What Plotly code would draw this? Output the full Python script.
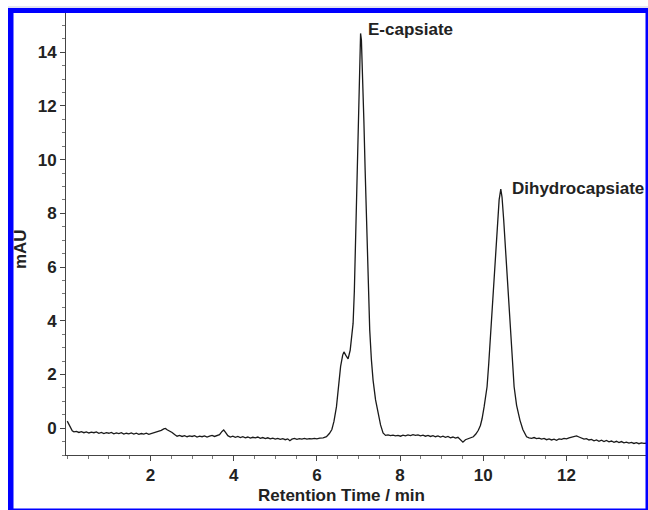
import plotly.graph_objects as go

# ---- data ----
retention_time_min = [
    0.00, 0.04, 0.08, 0.12, 0.16, 0.22, 0.28, 0.34, 0.40, 0.46, 0.52, 0.58, 0.64, 0.70, 0.76, 0.82, 0.88, 0.94,
    1.00, 1.06, 1.12, 1.18, 1.24, 1.30, 1.36, 1.42, 1.48, 1.54, 1.60, 1.66, 1.72, 1.78, 1.84, 1.90, 1.96,
    2.02, 2.08, 2.14, 2.20, 2.26, 2.32, 2.36, 2.40, 2.46, 2.52, 2.58, 2.64, 2.70, 2.76, 2.82, 2.88, 2.94,
    3.00, 3.06, 3.12, 3.18, 3.24, 3.30, 3.36, 3.42, 3.48, 3.54, 3.60, 3.66, 3.72, 3.76, 3.80, 3.86, 3.92, 3.98,
    4.04, 4.10, 4.16, 4.22, 4.28, 4.34, 4.40, 4.46, 4.52, 4.58, 4.64, 4.70, 4.76, 4.82, 4.88, 4.94,
    5.00, 5.06, 5.12, 5.18, 5.24, 5.30, 5.35, 5.40, 5.46, 5.52, 5.58, 5.64, 5.70, 5.76, 5.82, 5.88, 5.94,
    6.00, 6.07, 6.15, 6.23, 6.30, 6.36, 6.41, 6.47, 6.52, 6.57, 6.62, 6.65, 6.70, 6.75, 6.80, 6.84, 6.87,
    6.90, 6.94, 6.97, 7.00, 7.03, 7.05, 7.07, 7.10, 7.13, 7.16, 7.19, 7.23, 7.27, 7.31, 7.35, 7.41, 7.47,
    7.53, 7.59, 7.65, 7.71, 7.77, 7.83, 7.89, 7.95, 8.01, 8.07, 8.13, 8.19, 8.25, 8.31, 8.37, 8.43, 8.49,
    8.55, 8.61, 8.67, 8.73, 8.79, 8.85, 8.91, 8.97, 9.03, 9.09, 9.15, 9.21, 9.27, 9.33, 9.39, 9.45, 9.51,
    9.57, 9.63, 9.70, 9.76, 9.82, 9.88, 9.93, 9.97, 10.02, 10.09, 10.13, 10.17, 10.22, 10.26, 10.30, 10.34,
    10.38, 10.42, 10.45, 10.49, 10.53, 10.56, 10.61, 10.66, 10.70, 10.74, 10.80, 10.88, 10.95, 11.00, 11.04,
    11.10, 11.16, 11.22, 11.28, 11.34, 11.40, 11.46, 11.52, 11.58, 11.64, 11.70, 11.76, 11.82, 11.88, 11.94,
    12.00, 12.06, 12.12, 12.18, 12.24, 12.30, 12.36, 12.42, 12.48, 12.54, 12.60, 12.66, 12.72, 12.78, 12.84,
    12.90, 12.96, 13.02, 13.08, 13.14, 13.20, 13.26, 13.32, 13.38, 13.44, 13.50, 13.56, 13.62, 13.68, 13.74,
    13.80, 13.86, 13.92,
]
absorbance_mau = [
    0.26, 0.15, 0.02, -0.10, -0.14, -0.12, -0.16, -0.13, -0.17, -0.14, -0.18, -0.15, -0.17, -0.14, -0.19, -0.16, -0.20, -0.17,
    -0.19, -0.16, -0.21, -0.18, -0.20, -0.17, -0.22, -0.19, -0.21, -0.18, -0.22, -0.19, -0.23, -0.20, -0.22, -0.19, -0.23,
    -0.20, -0.17, -0.14, -0.12, -0.08, -0.03, -0.01, -0.06, -0.10, -0.16, -0.24, -0.30, -0.27, -0.31, -0.28, -0.32, -0.29,
    -0.31, -0.28, -0.33, -0.30, -0.32, -0.29, -0.33, -0.30, -0.27, -0.31, -0.26, -0.24, -0.12, -0.07, -0.15, -0.28, -0.33, -0.30,
    -0.34, -0.31, -0.35, -0.32, -0.36, -0.33, -0.37, -0.34, -0.36, -0.33, -0.38, -0.35, -0.39, -0.36, -0.40, -0.37,
    -0.41, -0.38, -0.42, -0.39, -0.43, -0.40, -0.47, -0.41, -0.38, -0.42, -0.39, -0.41, -0.38, -0.41, -0.39, -0.40, -0.38,
    -0.40, -0.37, -0.36, -0.32, -0.20, -0.05, 0.25, 0.79, 1.55, 2.30, 2.72, 2.84, 2.70, 2.58, 2.90, 3.40, 3.90,
    5.10, 7.75, 9.70, 11.50, 13.60, 14.70, 14.45, 13.10, 11.40, 9.60, 7.75, 5.26, 3.65, 2.55, 1.79, 1.05, 0.55,
    0.12, -0.18, -0.27, -0.25, -0.28, -0.26, -0.29, -0.27, -0.30, -0.26, -0.29, -0.25, -0.28, -0.24, -0.27, -0.25, -0.29,
    -0.26, -0.30, -0.27, -0.31, -0.28, -0.32, -0.29, -0.33, -0.30, -0.34, -0.31, -0.36, -0.33, -0.37, -0.34, -0.42, -0.52,
    -0.43, -0.40, -0.36, -0.32, -0.22, -0.08, 0.10, 0.35, 0.80, 1.54, 2.40, 3.40, 4.75, 5.88, 6.85, 7.75,
    8.50, 8.90, 8.60, 7.75, 6.80, 5.88, 4.60, 3.40, 2.40, 1.54, 0.85, 0.30, -0.05, -0.22, -0.32,
    -0.36, -0.38, -0.35, -0.39, -0.37, -0.41, -0.38, -0.43, -0.40, -0.44, -0.41, -0.45, -0.40, -0.42, -0.38,
    -0.40, -0.36, -0.33, -0.31, -0.29, -0.33, -0.36, -0.41, -0.39, -0.44, -0.42, -0.47, -0.44, -0.49, -0.45,
    -0.50, -0.46, -0.51, -0.48, -0.53, -0.49, -0.54, -0.50, -0.55, -0.52, -0.56, -0.53, -0.57, -0.54, -0.58,
    -0.55, -0.57, -0.56,
]
x_tick_values = [2, 4, 6, 8, 10, 12]
y_tick_values = [0, 2, 4, 6, 8, 10, 12, 14]
peak_labels = ["E-capsiate", "Dihydrocapsiate"]
peak_label_x = [7.18, 10.64]
peak_label_y = [14.84, 8.94]

FONT = "Liberation Sans, Arial, Helvetica, sans-serif"
BLUE = "#0000ff"

fig = go.Figure()
fig.add_trace(go.Scatter(
    x=retention_time_min, y=absorbance_mau, mode="lines",
    line=dict(color="#1a1a1a", width=1.3), showlegend=False, hoverinfo="skip",
))

axis_common = dict(
    showgrid=False, zeroline=False, showline=True, linecolor="#444444", linewidth=1,
    ticks="outside", ticklen=5, tickcolor="#444444", tickwidth=1,
    tickfont=dict(family=FONT, size=17, color="#222222", weight="bold"),
    minor=dict(ticks="outside", ticklen=3, tickcolor="#777777", dtick=0.5, showgrid=False),
)
fig.update_xaxes(range=[-0.03, 13.91], tickvals=x_tick_values, **axis_common)
fig.update_yaxes(range=[-1.0, 15.46], tickvals=y_tick_values, **axis_common)

annotations = []
for txt, ax, ay in zip(peak_labels, peak_label_x, peak_label_y):
    annotations.append(dict(x=ax, y=ay, xref="x", yref="y", text=txt, showarrow=False,
                            xanchor="left", yanchor="middle",
                            font=dict(family=FONT, size=17, color="#222222", weight="bold")))
annotations.append(dict(x=-0.0793, y=0.466, xref="paper", yref="paper", text="mAU", showarrow=False,
                        textangle=-90, xanchor="center", yanchor="middle",
                        font=dict(family=FONT, size=17, color="#222222", weight="bold")))

# plot area in pixels: l=66, r=646, t=13, b=455
def px_x(p):
    return (p - 66) / 580.0

def px_y(p):
    return (455 - p) / 442.0

annotations.append(dict(x=px_x(341), y=px_y(507), xref="paper", yref="paper", text="Retention Time / min",
                        showarrow=False, xanchor="center", yanchor="bottom",
                        font=dict(family=FONT, size=17, color="#222222", weight="bold")))

# blue frame around the figure
shapes = [
    dict(type="rect", xref="paper", yref="paper", x0=px_x(8), x1=px_x(13.5), y0=px_y(511), y1=px_y(8),
         fillcolor=BLUE, line=dict(width=0), layer="above"),
    dict(type="rect", xref="paper", yref="paper", x0=px_x(8), x1=px_x(649), y0=px_y(13), y1=px_y(8),
         fillcolor=BLUE, line=dict(width=0), layer="above"),
    dict(type="rect", xref="paper", yref="paper", x0=px_x(645.5), x1=px_x(649), y0=px_y(511), y1=px_y(8),
         fillcolor=BLUE, line=dict(width=0), layer="above"),
    dict(type="rect", xref="paper", yref="paper", x0=px_x(8), x1=px_x(649), y0=px_y(511), y1=px_y(508.5),
         fillcolor=BLUE, line=dict(width=0), layer="above"),
    dict(type="line", xref="paper", yref="paper", x0=px_x(8), x1=px_x(649), y0=px_y(7), y1=px_y(7),
         line=dict(color="#c8c8e0", width=1), layer="above"),
]

fig.update_layout(
    width=648, height=510,
    margin=dict(l=66, r=2, t=13, b=55, pad=0),
    paper_bgcolor="white", plot_bgcolor="white",
    annotations=annotations, shapes=shapes,
    showlegend=False,
)

fig.write_html("out.html")
